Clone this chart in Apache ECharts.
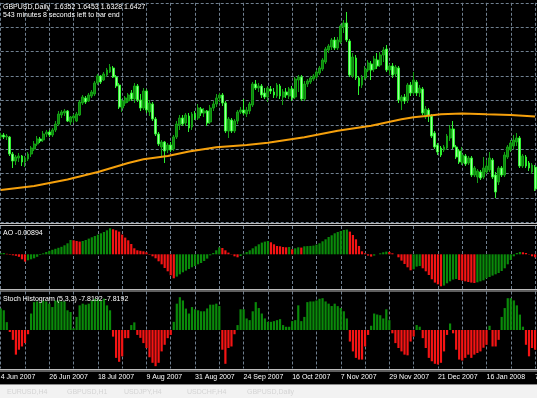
<!DOCTYPE html>
<html lang="en">
<head>
<meta charset="utf-8">
<title>GBPUSD,Daily</title>
<script src="https://cdn.jsdelivr.net/npm/echarts@6.0.0/dist/echarts.min.js"></script>
<style>
  html, body { margin: 0; padding: 0; background: #000; overflow: hidden; }
  #chart { width: 537px; height: 398px; }
</style>
</head>
<body>
<div id="chart"></div>
<script>
// GBPUSD daily bars, 4 Jun 2007 .. 7 Feb 2008 (one value per bar)
const opens = [
  2.013, 2.015, 2.013, 2.013, 1.996, 1.989, 1.992, 1.994, 1.988, 1.991,
  1.996, 2.001, 2.006, 2.011, 2.010, 2.016, 2.018, 2.015, 2.020, 2.026,
  2.035, 2.037, 2.039, 2.028, 2.032, 2.029, 2.035, 2.047, 2.052, 2.049,
  2.054, 2.056, 2.067, 2.074, 2.070, 2.075, 2.078, 2.082, 2.073, 2.065,
  2.042, 2.047, 2.049, 2.057, 2.051, 2.064, 2.050, 2.042, 2.059, 2.038,
  2.046, 2.031, 2.016, 2.003, 2.008, 2.000, 2.005, 2.001, 2.013, 2.025,
  2.032, 2.027, 2.034, 2.023, 2.036, 2.032, 2.041, 2.037, 2.039, 2.028,
  2.042, 2.046, 2.052, 2.055, 2.047, 2.019, 2.030, 2.019, 2.029, 2.038,
  2.040, 2.036, 2.039, 2.045, 2.066, 2.062, 2.064, 2.057, 2.053, 2.061,
  2.058, 2.054, 2.064, 2.053, 2.058, 2.054, 2.061, 2.053, 2.070, 2.073,
  2.051, 2.066, 2.068, 2.071, 2.073, 2.077, 2.081, 2.088, 2.100, 2.103,
  2.110, 2.102, 2.108, 2.123, 2.127, 2.109, 2.074, 2.092, 2.072, 2.065,
  2.072, 2.080, 2.086, 2.081, 2.090, 2.085, 2.095, 2.101, 2.080, 2.084,
  2.076, 2.082, 2.049, 2.053, 2.050, 2.065, 2.057, 2.068, 2.057, 2.061,
  2.033, 2.040, 2.034, 2.017, 2.005, 2.002, 2.000, 2.002, 2.012, 2.021,
  2.003, 1.999, 1.987, 1.994, 1.987, 1.992, 1.975, 1.973, 1.978, 1.973,
  1.978, 1.980, 1.990, 1.975, 1.968, 1.982, 1.975, 1.993, 2.000, 2.004,
  2.008, 2.012, 1.984, 1.993, 1.987, 1.978, 1.983
];
const closes = [
  2.015, 2.013, 2.014, 1.996, 1.989, 1.993, 1.994, 1.988, 1.992, 1.996,
  2.002, 2.006, 2.011, 2.009, 2.016, 2.018, 2.015, 2.020, 2.026, 2.036,
  2.038, 2.039, 2.029, 2.033, 2.034, 2.036, 2.048, 2.053, 2.048, 2.055,
  2.058, 2.067, 2.074, 2.068, 2.076, 2.080, 2.083, 2.073, 2.064, 2.043,
  2.049, 2.052, 2.055, 2.051, 2.064, 2.050, 2.042, 2.059, 2.040, 2.047,
  2.031, 2.016, 2.006, 2.008, 1.999, 2.005, 2.000, 2.013, 2.026, 2.032,
  2.026, 2.035, 2.022, 2.036, 2.032, 2.042, 2.037, 2.039, 2.027, 2.042,
  2.046, 2.052, 2.055, 2.047, 2.019, 2.031, 2.019, 2.029, 2.038, 2.040,
  2.037, 2.040, 2.046, 2.066, 2.062, 2.064, 2.055, 2.053, 2.062, 2.059,
  2.055, 2.065, 2.054, 2.058, 2.055, 2.061, 2.052, 2.071, 2.073, 2.051,
  2.066, 2.069, 2.072, 2.074, 2.078, 2.082, 2.090, 2.101, 2.104, 2.110,
  2.102, 2.110, 2.124, 2.127, 2.110, 2.075, 2.093, 2.072, 2.064, 2.073,
  2.081, 2.087, 2.080, 2.091, 2.084, 2.095, 2.100, 2.080, 2.084, 2.075,
  2.083, 2.050, 2.053, 2.049, 2.065, 2.057, 2.070, 2.057, 2.062, 2.037,
  2.041, 2.034, 2.014, 2.003, 1.998, 1.995, 2.003, 2.014, 2.021, 2.003,
  1.993, 1.988, 1.995, 1.986, 1.992, 1.975, 1.982, 1.979, 1.972, 1.982,
  1.984, 1.992, 1.973, 1.958, 1.982, 1.975, 1.995, 2.003, 2.007, 2.010,
  2.012, 1.984, 1.994, 1.984, 1.982, 1.985, 1.961
];
const highs = [
  2.017, 2.017, 2.016, 2.014, 1.998, 1.995, 1.997, 1.995, 1.994, 1.998,
  2.004, 2.009, 2.014, 2.013, 2.019, 2.020, 2.020, 2.022, 2.029, 2.039,
  2.040, 2.041, 2.040, 2.034, 2.036, 2.038, 2.050, 2.055, 2.054, 2.057,
  2.060, 2.069, 2.076, 2.075, 2.078, 2.082, 2.086, 2.084, 2.075, 2.067,
  2.051, 2.054, 2.057, 2.060, 2.067, 2.066, 2.056, 2.062, 2.061, 2.050,
  2.048, 2.033, 2.018, 2.010, 2.009, 2.007, 2.008, 2.015, 2.029, 2.035,
  2.035, 2.037, 2.037, 2.038, 2.039, 2.046, 2.043, 2.042, 2.040, 2.045,
  2.049, 2.056, 2.057, 2.057, 2.049, 2.033, 2.032, 2.031, 2.040, 2.043,
  2.051, 2.043, 2.048, 2.068, 2.070, 2.067, 2.066, 2.062, 2.064, 2.064,
  2.062, 2.067, 2.066, 2.061, 2.062, 2.063, 2.064, 2.073, 2.075, 2.075,
  2.069, 2.071, 2.074, 2.076, 2.080, 2.084, 2.092, 2.103, 2.106, 2.112,
  2.113, 2.113, 2.126, 2.130, 2.138, 2.111, 2.097, 2.095, 2.074, 2.075,
  2.084, 2.090, 2.089, 2.094, 2.097, 2.098, 2.103, 2.105, 2.086, 2.087,
  2.085, 2.084, 2.055, 2.056, 2.067, 2.068, 2.078, 2.070, 2.065, 2.063,
  2.044, 2.042, 2.036, 2.019, 2.007, 2.004, 2.005, 2.016, 2.025, 2.029,
  2.005, 2.001, 2.003, 1.996, 1.994, 1.994, 1.984, 1.981, 1.980, 1.993,
  1.990, 1.998, 1.992, 1.978, 1.984, 1.984, 1.998, 2.005, 2.010, 2.015,
  2.017, 2.014, 1.996, 1.995, 1.989, 1.987, 1.985
];
const lows = [
  2.011, 2.011, 2.010, 1.994, 1.982, 1.985, 1.988, 1.984, 1.983, 1.989,
  1.993, 1.999, 2.004, 2.007, 2.008, 2.013, 2.013, 2.013, 2.018, 2.024,
  2.032, 2.034, 2.028, 2.025, 2.027, 2.028, 2.034, 2.045, 2.046, 2.048,
  2.052, 2.054, 2.065, 2.066, 2.069, 2.073, 2.077, 2.072, 2.062, 2.041,
  2.038, 2.044, 2.047, 2.049, 2.047, 2.048, 2.039, 2.040, 2.037, 2.034,
  2.029, 2.014, 2.004, 1.993, 1.987, 1.997, 1.998, 1.999, 2.011, 2.020,
  2.024, 2.024, 2.018, 2.020, 2.030, 2.030, 2.034, 2.033, 2.024, 2.026,
  2.039, 2.043, 2.048, 2.044, 2.017, 2.012, 2.017, 2.017, 2.026, 2.036,
  2.035, 2.033, 2.036, 2.043, 2.060, 2.058, 2.052, 2.051, 2.048, 2.056,
  2.052, 2.052, 2.051, 2.045, 2.052, 2.051, 2.049, 2.051, 2.058, 2.049,
  2.049, 2.063, 2.066, 2.069, 2.071, 2.075, 2.079, 2.086, 2.097, 2.100,
  2.100, 2.100, 2.106, 2.117, 2.108, 2.073, 2.072, 2.070, 2.055, 2.062,
  2.070, 2.078, 2.070, 2.078, 2.081, 2.083, 2.088, 2.078, 2.075, 2.072,
  2.073, 2.047, 2.040, 2.046, 2.047, 2.054, 2.055, 2.054, 2.053, 2.035,
  2.031, 2.028, 2.012, 2.001, 1.995, 1.993, 1.998, 2.000, 2.009, 2.001,
  1.991, 1.986, 1.985, 1.984, 1.985, 1.973, 1.973, 1.967, 1.970, 1.971,
  1.976, 1.978, 1.971, 1.952, 1.965, 1.973, 1.973, 1.991, 1.998, 2.001,
  2.004, 1.982, 1.982, 1.982, 1.979, 1.976, 1.959
];

// moving average, sampled as [bar index, price]
const maPoints = [
  [0, 1.960], [11, 1.964], [22, 1.9705], [32, 1.978], [42, 1.987], [47, 1.9907],
  [55, 1.994], [62, 1.9985], [71, 2.0027], [81, 2.005], [88, 2.0073], [100, 2.0127],
  [111, 2.0193], [122, 2.0243], [132, 2.0307], [136, 2.0327], [140, 2.034], [145, 2.0357],
  [152, 2.0365], [160, 2.0357], [168, 2.035], [172, 2.0343], [176, 2.0335]
];

// Awesome Oscillator
const aoValues = [
  0.0010, 0.0013, 0.0005, -0.0005, -0.0010, -0.0015, -0.0025, -0.0050, -0.0073, -0.0060,
  -0.0050, -0.0040, -0.0025, -0.0007, 0.0010, 0.0023, 0.0035, 0.0045, 0.0055, 0.0065,
  0.0075, 0.0090, 0.0110, 0.0143, 0.0140, 0.0133, 0.0127, 0.0133, 0.0143, 0.0157,
  0.0170, 0.0183, 0.0197, 0.0210, 0.0223, 0.0240, 0.0260, 0.0250, 0.0240, 0.0227,
  0.0197, 0.0167, 0.0140, 0.0103, 0.0060, 0.0040, 0.0035, 0.0030, 0.0020, -0.0005,
  -0.0020, -0.0040, -0.0070, -0.0100, -0.0137, -0.0170, -0.0210, -0.0240, -0.0223, -0.0200,
  -0.0180, -0.0163, -0.0147, -0.0130, -0.0117, -0.0100, -0.0087, -0.0067, -0.0043, -0.0010,
  0.0013, 0.0040, 0.0070, 0.0063, 0.0040, 0.0017, -0.0003, -0.0020, -0.0030, -0.0017,
  0.0007, 0.0023, 0.0040, 0.0060, 0.0080, 0.0100, 0.0117, 0.0127, 0.0133, 0.0120,
  0.0100, 0.0083, 0.0080, 0.0073, 0.0070, 0.0073, 0.0050, 0.0060, 0.0070, 0.0067,
  0.0080, 0.0082, 0.0084, 0.0087, 0.0097, 0.0110, 0.0130, 0.0150, 0.0173, 0.0190,
  0.0210, 0.0223, 0.0233, 0.0243, 0.0247, 0.0227, 0.0193, 0.0150, 0.0083, 0.0030,
  0.0010, -0.0013, -0.0023, -0.0013, 0.0000, 0.0010, 0.0020, 0.0027, 0.0023, 0.0010,
  0.0000, -0.0030, -0.0063, -0.0097, -0.0130, -0.0160, -0.0150, -0.0123, -0.0117, -0.0140,
  -0.0170, -0.0207, -0.0250, -0.0283, -0.0300, -0.0320, -0.0313, -0.0290, -0.0270, -0.0253,
  -0.0247, -0.0257, -0.0263, -0.0270, -0.0277, -0.0283, -0.0287, -0.0280, -0.0270, -0.0260,
  -0.0240, -0.0227, -0.0213, -0.0200, -0.0187, -0.0167, -0.0140, -0.0100, -0.0057, -0.0020,
  0.0013, 0.0023, 0.0020, 0.0013, 0.0003, -0.0020, -0.0030
];

// Stoch Histogram (5,3,3)
const stochValues = [
  27.8, 25.6, 10.2, -2.6, -12.8, -32.0, -25.6, -21.4, -17.0, -5.5,
  21.4, 36.2, 37.1, 35.5, 38.4, 37.1, 34.2, 29.8, 38.4, 38.4,
  37.1, 37.1, 25.6, 23.4, 2.2, 17.0, 32.0, 34.2, 32.9, 34.2,
  38.4, 40.6, 39.7, 38.4, 40.6, 32.0, 25.6, -8.6, -36.2, -41.3,
  -34.2, -10.6, -10.6, 6.4, 9.9, -6.4, -10.2, -17.0, -23.4, -35.4,
  -42.6, -47.0, -42.6, -27.8, -19.2, -10.6, -6.4, 10.6, 34.2, 42.6,
  38.4, 27.8, 21.4, 29.8, 26.9, 25.6, 24.3, 24.3, 28.0, 32.9,
  32.9, 34.2, 31.1, -25.6, -43.9, -23.4, -21.4, -5.5, 6.4, 26.9,
  26.9, 15.0, 12.8, 24.3, 36.2, 28.5, 21.4, 15.0, 10.6, 10.6,
  11.5, 12.8, 14.1, 6.4, 4.2, 4.2, 11.5, 12.8, 32.0, 11.5,
  17.0, 36.2, 37.1, 37.1, 38.4, 40.6, 41.3, 37.1, 34.2, 31.1,
  34.2, 31.0, 28.5, 24.3, 15.0, -15.0, -27.8, -36.2, -38.4, -38.4,
  -21.4, -6.4, 5.5, 21.4, 20.1, 19.2, 15.0, 26.9, 12.8, -4.3,
  -17.0, -23.4, -27.8, -32.0, -32.9, -15.0, -8.5, 6.4, 4.3, -10.6,
  -23.4, -36.2, -40.6, -43.9, -44.8, -42.6, -27.8, -6.4, 8.5, -4.3,
  -25.6, -38.4, -39.7, -36.2, -32.0, -36.2, -32.0, -29.9, -27.8, -23.0,
  -19.2, 5.5, -21.4, -21.4, -12.8, 17.0, 28.5, 41.3, 41.3, 38.4,
  32.0, 20.0, 4.3, -19.2, -34.2, -23.4, -25.6
];

// time axis labels, one every 16 bars
const tickLabels = [
  '4 Jun 2007', '26 Jun 2007', '18 Jul 2007', '9 Aug 2007', '31 Aug 2007', '24 Sep 2007',
  '16 Oct 2007', '7 Nov 2007', '29 Nov 2007', '21 Dec 2007', '16 Jan 2008', '7 Feb 2008'
];
const LABEL_EVERY = 16;
const GRID_EVERY = 8;

const GRID_COLOR = '#6f7f8f';
const GREEN = '#0a8a0a';
const RED = '#f51414';
const FONT = 'Liberation Sans';

let chart = null;

document.addEventListener('DOMContentLoaded', function() {
  initChart();
});

/**
 * init chart
 */
function initChart() {
  chart = echarts.init(document.getElementById('chart'), null, { renderer: 'canvas' });
  chart.setOption(buildOption());
}

/**
 * x axis for one panel
 */
function makeXAxis(gridIndex, categories, showLabels) {
  return {
    type: 'category',
    gridIndex: gridIndex,
    data: categories,
    boundaryGap: false,
    axisLine: { show: false },
    axisTick: { show: false },
    axisLabel: {
      show: showLabels,
      interval: LABEL_EVERY - 1,
      align: 'left',
      margin: 5,
      color: '#ffffff',
      fontSize: 7,
      fontFamily: FONT,
      formatter: function(value, index) {
        if (index % LABEL_EVERY !== 0) return '';
        return tickLabels[index / LABEL_EVERY] || '';
      }
    },
    splitLine: {
      show: true,
      interval: GRID_EVERY - 1,
      lineStyle: { color: GRID_COLOR, width: 1, type: [3, 2] }
    }
  };
}

/**
 * y axis for one panel
 */
function makeYAxis(gridIndex, min, max, interval, showSplit) {
  const axis = {
    type: 'value',
    gridIndex: gridIndex,
    position: 'right',
    min: min,
    max: max,
    scale: true,
    axisLine: { show: false },
    axisTick: { show: false },
    axisLabel: { show: false },
    splitLine: {
      show: showSplit,
      lineStyle: { color: GRID_COLOR, width: 1, type: [3, 2] }
    }
  };
  if (interval) axis.interval = interval;
  return axis;
}

function sepLine(y) {
  return {
    type: 'line',
    silent: true,
    z: 50,
    shape: { x1: 0, y1: y, x2: 537, y2: y },
    style: { stroke: '#bcbcbc', lineWidth: 1 }
  };
}

function label(x, y, text, color) {
  return {
    type: 'text',
    silent: true,
    z: 60,
    x: x,
    y: y,
    style: {
      text: text,
      fill: color || '#ffffff',
      fontSize: 7,
      fontFamily: FONT,
      verticalAlign: 'middle'
    }
  };
}

/**
 * build option
 */
function buildOption() {
  const barCount = opens.length;
  // one empty slot after the last bar, so the last candle sits just inside the right edge
  const categories = [];
  for (let i = 0; i <= barCount; i++) categories.push(String(i));

  const candleData = opens.map((o, i) => [o, closes[i], lows[i], highs[i]]);

  const aoData = aoValues.map((v, i) => ({
    value: v,
    itemStyle: { color: (i === 0 || v > aoValues[i - 1]) ? GREEN : RED }
  }));

  const stochData = stochValues.map(v => ({
    value: v,
    itemStyle: { color: v >= 0 ? GREEN : RED }
  }));

  const gridBase = { left: 0.72, width: 537.4, containLabel: false, outerBoundsMode: 'none' };

  return {
    backgroundColor: '#000000',
    animation: false,
    grid: [
      Object.assign({ top: 2.8, height: 219.6 }, gridBase),
      Object.assign({ top: 226, height: 63 }, gridBase),
      Object.assign({ top: 291.5, height: 77 }, gridBase)
    ],
    xAxis: [
      makeXAxis(0, categories, false),
      makeXAxis(1, categories, false),
      makeXAxis(2, categories, true)
    ],
    yAxis: [
      makeYAxis(0, 1.9276, 2.1472, 0.0244, true),
      makeYAxis(1, -0.0347, 0.0283, null, false),
      makeYAxis(2, -50, 50, null, false)
    ],
    series: [
      {
        name: 'GBPUSD,Daily',
        type: 'candlestick',
        xAxisIndex: 0,
        yAxisIndex: 0,
        data: candleData,
        barWidth: 2.4,
        itemStyle: {
          color: '#0c820c',
          borderColor: '#14a014',
          color0: '#a0ffa0',
          borderColor0: '#2ef02e',
          borderWidth: 1
        }
      },
      {
        name: 'MA',
        type: 'line',
        xAxisIndex: 0,
        yAxisIndex: 0,
        data: maPoints,
        symbol: 'none',
        smooth: false,
        z: 5,
        lineStyle: { color: '#f5a00c', width: 2 }
      },
      {
        name: 'AO',
        type: 'bar',
        xAxisIndex: 1,
        yAxisIndex: 1,
        data: aoData,
        barWidth: 2.2
      },
      {
        name: 'Stoch Histogram',
        type: 'bar',
        xAxisIndex: 2,
        yAxisIndex: 2,
        data: stochData,
        barWidth: 2.2
      }
    ],
    graphic: [
      sepLine(223.5), sepLine(225.5),
      sepLine(289.5), sepLine(291),
      sepLine(369.5), sepLine(371),
      {
        type: 'rect', silent: true, z: 50,
        shape: { x: 0, y: 384, width: 537, height: 1 },
        style: { fill: '#8c8c8c' }
      },
      {
        type: 'rect', silent: true, z: 50,
        shape: { x: 0, y: 385, width: 537, height: 13 },
        style: { fill: '#f2f2f2' }
      },
      label(3, 6.7, 'GBPUSD,Daily  1.6352 1.6453 1.6328 1.6427'),
      label(3, 15.3, '543 minutes 8 seconds left to bar end'),
      label(3, 233.3, 'AO -0.00894'),
      label(3, 299, 'Stoch Histogram (5,3,3) -7.8192 -7.8192'),
      label(7, 392, 'EURUSD,H4', '#d4d4d4'),
      label(67, 392, 'GBPUSD,H1', '#d4d4d4'),
      label(124, 392, 'USDJPY,H4', '#d4d4d4'),
      label(187, 392, 'USDCHF,H4', '#d4d4d4'),
      label(247, 392, 'GBPUSD,Daily', '#d4d4d4')
    ]
  };
}
</script>
</body>
</html>
